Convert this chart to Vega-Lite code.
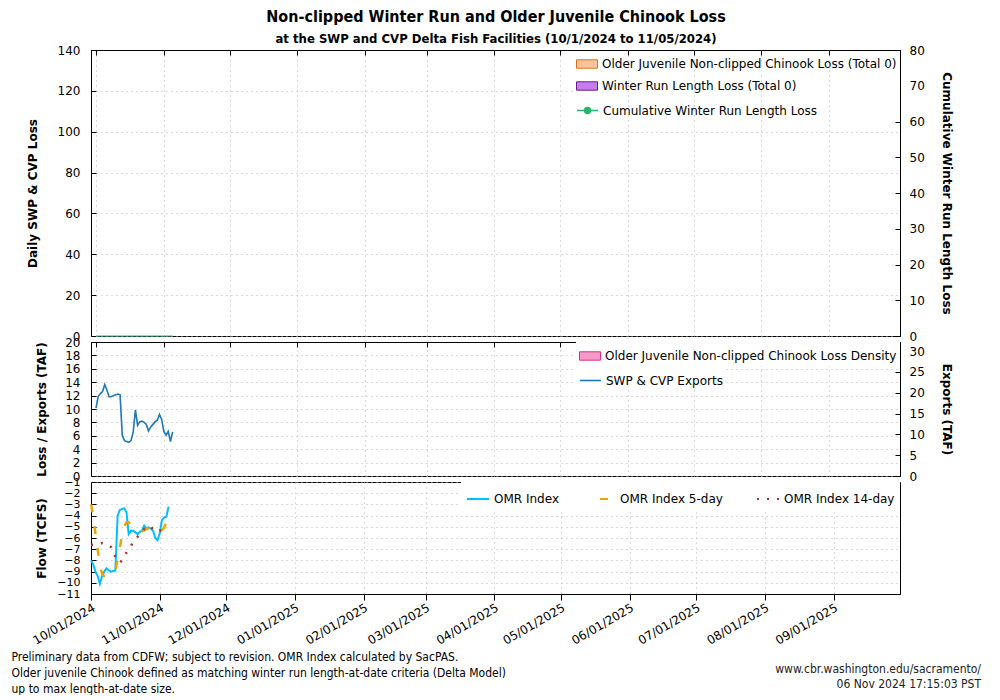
{
  "$schema": "https://vega.github.io/schema/vega-lite/v6.json",
  "padding": {"left": 10, "top": 8, "right": 5, "bottom": 0},
  "background": "white",
  "bounds": "flush",
  "spacing": 6,
  "title": {
    "text": "Non-clipped Winter Run and Older Juvenile Chinook Loss",
    "subtitle": "at the SWP and CVP Delta Fish Facilities (10/1/2024 to 11/05/2024)",
    "font": "DejaVu Sans Condensed",
    "fontSize": 16,
    "fontWeight": "bold",
    "color": "black",
    "subtitleFont": "DejaVu Sans Condensed",
    "subtitleFontSize": 13,
    "subtitleFontWeight": "bold",
    "subtitleColor": "black",
    "subtitlePadding": 8,
    "anchor": "middle",
    "offset": -2
  },
  "datasets": {
    "daily": [
      {"date": "2024-10-01", "exports": 16.3, "omr": -8.0, "omr5": -3.0, "omr14": -6.6, "olderLoss": 0, "wrLoss": 0, "cumWR": 0, "density": 0},
      {"date": "2024-10-02", "exports": 19.1, "omr": -8.35, "omr5": -4.0, "omr14": -6.6, "olderLoss": 0, "wrLoss": 0, "cumWR": 0, "density": 0},
      {"date": "2024-10-03", "exports": 19.8, "omr": -9.0, "omr5": -5.6, "omr14": -6.55, "olderLoss": 0, "wrLoss": 0, "cumWR": 0, "density": 0},
      {"date": "2024-10-04", "exports": 20.3, "omr": -9.4, "omr5": -7.0, "omr14": -6.5, "olderLoss": 0, "wrLoss": 0, "cumWR": 0, "density": 0},
      {"date": "2024-10-05", "exports": 22.0, "omr": -10.1, "omr5": -8.4, "omr14": -6.5, "olderLoss": 0, "wrLoss": 0, "cumWR": 0, "density": 0},
      {"date": "2024-10-06", "exports": 20.6, "omr": -9.4, "omr5": -9.2, "omr14": -6.45, "olderLoss": 0, "wrLoss": 0, "cumWR": 0, "density": 0},
      {"date": "2024-10-07", "exports": 19.0, "omr": -9.0, "omr5": -9.4, "omr14": -6.5, "olderLoss": 0, "wrLoss": 0, "cumWR": 0, "density": 0},
      {"date": "2024-10-08", "exports": 19.1, "omr": -8.7, "omr5": -9.3, "omr14": -6.6, "olderLoss": 0, "wrLoss": 0, "cumWR": 0, "density": 0},
      {"date": "2024-10-09", "exports": 19.3, "omr": -8.9, "omr5": -9.2, "omr14": -6.65, "olderLoss": 0, "wrLoss": 0, "cumWR": 0, "density": 0},
      {"date": "2024-10-10", "exports": 19.5, "omr": -9.0, "omr5": -9.0, "omr14": -6.8, "olderLoss": 0, "wrLoss": 0, "cumWR": 0, "density": 0},
      {"date": "2024-10-11", "exports": 19.7, "omr": -8.95, "omr5": -8.95, "omr14": -7.2, "olderLoss": 0, "wrLoss": 0, "cumWR": 0, "density": 0},
      {"date": "2024-10-12", "exports": 19.5, "omr": -8.9, "omr5": -8.9, "omr14": -7.7, "olderLoss": 0, "wrLoss": 0, "cumWR": 0, "density": 0},
      {"date": "2024-10-13", "exports": 9.8, "omr": -4.0, "omr5": -7.9, "omr14": -8.0, "olderLoss": 0, "wrLoss": 0, "cumWR": 0, "density": 0},
      {"date": "2024-10-14", "exports": 8.5, "omr": -3.5, "omr5": -6.9, "omr14": -8.2, "olderLoss": 0, "wrLoss": 0, "cumWR": 0, "density": 0},
      {"date": "2024-10-15", "exports": 8.3, "omr": -3.4, "omr5": -5.7, "omr14": -8.0, "olderLoss": 0, "wrLoss": 0, "cumWR": 0, "density": 0},
      {"date": "2024-10-16", "exports": 8.1, "omr": -3.35, "omr5": -5.0, "omr14": -7.6, "olderLoss": 0, "wrLoss": 0, "cumWR": 0, "density": 0},
      {"date": "2024-10-17", "exports": 8.5, "omr": -3.7, "omr5": -4.6, "omr14": -7.3, "olderLoss": 0, "wrLoss": 0, "cumWR": 0, "density": 0},
      {"date": "2024-10-18", "exports": 10.6, "omr": -5.65, "omr5": -4.6, "omr14": -7.0, "olderLoss": 0, "wrLoss": 0, "cumWR": 0, "density": 0},
      {"date": "2024-10-19", "exports": 15.9, "omr": -5.35, "omr5": -4.8, "omr14": -6.7, "olderLoss": 0, "wrLoss": 0, "cumWR": 0, "density": 0},
      {"date": "2024-10-20", "exports": 12.2, "omr": -5.35, "omr5": -5.0, "omr14": -6.4, "olderLoss": 0, "wrLoss": 0, "cumWR": 0, "density": 0},
      {"date": "2024-10-21", "exports": 13.0, "omr": -5.5, "omr5": -5.2, "omr14": -6.1, "olderLoss": 0, "wrLoss": 0, "cumWR": 0, "density": 0},
      {"date": "2024-10-22", "exports": 13.2, "omr": -5.65, "omr5": -5.3, "omr14": -5.9, "olderLoss": 0, "wrLoss": 0, "cumWR": 0, "density": 0},
      {"date": "2024-10-23", "exports": 12.9, "omr": -5.45, "omr5": -5.4, "omr14": -5.7, "olderLoss": 0, "wrLoss": 0, "cumWR": 0, "density": 0},
      {"date": "2024-10-24", "exports": 12.4, "omr": -5.35, "omr5": -5.4, "omr14": -5.4, "olderLoss": 0, "wrLoss": 0, "cumWR": 0, "density": 0},
      {"date": "2024-10-25", "exports": 10.8, "omr": -4.9, "omr5": -5.3, "omr14": -5.2, "olderLoss": 0, "wrLoss": 0, "cumWR": 0, "density": 0},
      {"date": "2024-10-26", "exports": 11.8, "omr": -5.15, "omr5": -5.2, "omr14": -5.05, "olderLoss": 0, "wrLoss": 0, "cumWR": 0, "density": 0},
      {"date": "2024-10-27", "exports": 12.4, "omr": -5.05, "omr5": -5.15, "omr14": -4.9, "olderLoss": 0, "wrLoss": 0, "cumWR": 0, "density": 0},
      {"date": "2024-10-28", "exports": 13.0, "omr": -5.15, "omr5": -5.2, "omr14": -5.0, "olderLoss": 0, "wrLoss": 0, "cumWR": 0, "density": 0},
      {"date": "2024-10-29", "exports": 13.4, "omr": -5.35, "omr5": -5.25, "omr14": -5.2, "olderLoss": 0, "wrLoss": 0, "cumWR": 0, "density": 0},
      {"date": "2024-10-30", "exports": 14.8, "omr": -6.0, "omr5": -5.3, "omr14": -5.4, "olderLoss": 0, "wrLoss": 0, "cumWR": 0, "density": 0},
      {"date": "2024-10-31", "exports": 13.6, "omr": -6.2, "omr5": -5.4, "omr14": -5.45, "olderLoss": 0, "wrLoss": 0, "cumWR": 0, "density": 0},
      {"date": "2024-11-01", "exports": 10.7, "omr": -5.6, "omr5": -5.45, "omr14": -5.35, "olderLoss": 0, "wrLoss": 0, "cumWR": 0, "density": 0},
      {"date": "2024-11-02", "exports": 9.8, "omr": -4.4, "omr5": -5.3, "omr14": -5.3, "olderLoss": 0, "wrLoss": 0, "cumWR": 0, "density": 0},
      {"date": "2024-11-03", "exports": 10.7, "omr": -4.15, "omr5": -5.1, "omr14": -5.2, "olderLoss": 0, "wrLoss": 0, "cumWR": 0, "density": 0},
      {"date": "2024-11-04", "exports": 8.3, "omr": -4.1, "omr5": -4.6, "omr14": -5.1, "olderLoss": 0, "wrLoss": 0, "cumWR": 0, "density": 0},
      {"date": "2024-11-05", "exports": 10.6, "omr": -3.2, "omr5": -4.3, "omr14": -5.0, "olderLoss": 0, "wrLoss": 0, "cumWR": 0, "density": 0}
    ]
  },
  "vconcat": [
    {
      "width": 809,
      "height": 286,
      "data": {"name": "daily"},
      "layer": [
        {
          "layer": [
            {
              "mark": {"type": "bar"},
              "encoding": {
                "x": {"field": "date", "type": "temporal",
                  "scale": {"type": "utc", "domain": [{"year": 2024, "month": 10, "date": 1, "utc": true}, {"year": 2025, "month": 10, "date": 1, "utc": true}]},
                  "axis": {"labels": false, "title": null, "grid": true, "tickSize": -5, "zindex": 1,
                    "values": [{"year": 2024, "month": 10, "date": 1, "utc": true}, {"year": 2024, "month": 11, "date": 1, "utc": true}, {"year": 2024, "month": 12, "date": 1, "utc": true}, {"year": 2025, "month": 1, "date": 1, "utc": true}, {"year": 2025, "month": 2, "date": 1, "utc": true}, {"year": 2025, "month": 3, "date": 1, "utc": true}, {"year": 2025, "month": 4, "date": 1, "utc": true}, {"year": 2025, "month": 5, "date": 1, "utc": true}, {"year": 2025, "month": 6, "date": 1, "utc": true}, {"year": 2025, "month": 7, "date": 1, "utc": true}, {"year": 2025, "month": 8, "date": 1, "utc": true}, {"year": 2025, "month": 9, "date": 1, "utc": true}]}},
                "y": {"field": "olderLoss", "type": "quantitative",
                  "scale": {"domain": [0, 140], "nice": false},
                  "axis": {"title": "Daily SWP & CVP Loss", "values": [0, 20, 40, 60, 80, 100, 120, 140], "grid": true, "tickSize": -5, "labelPadding": 16, "titlePadding": 18}},
                "fill": {"datum": "Older Juvenile Non-clipped Chinook Loss (Total 0)",
                  "scale": {"domain": ["Older Juvenile Non-clipped Chinook Loss (Total 0)", "Winter Run Length Loss (Total 0)"], "range": ["#f8c49c", "#c77cee"]},
                  "legend": {"orient": "top-right", "title": null, "offset": 0, "fillColor": "white", "padding": 3, "rowPadding": 4,
                    "symbolType": "M-1,-0.4H1V0.4H-1Z", "symbolSize": 440, "symbolStrokeWidth": 1,
                    "encode": {"symbols": {"update": {"stroke": [{"test": "datum.value === 'Older Juvenile Non-clipped Chinook Loss (Total 0)'", "value": "#e0701c"}, {"value": "#6a1b8a"}]}}}}}
              }
            },
            {
              "mark": {"type": "bar"},
              "encoding": {
                "x": {"field": "date", "type": "temporal"},
                "y": {"field": "wrLoss", "type": "quantitative"},
                "fill": {"datum": "Winter Run Length Loss (Total 0)"}
              }
            }
          ]
        },
        {
          "mark": {"type": "line", "strokeWidth": 1},
          "encoding": {
            "x": {"field": "date", "type": "temporal",
              "axis": {"orient": "top", "labels": false, "title": null, "grid": false, "tickSize": -5,
                "values": [{"year": 2024, "month": 10, "date": 1, "utc": true}, {"year": 2024, "month": 11, "date": 1, "utc": true}, {"year": 2024, "month": 12, "date": 1, "utc": true}, {"year": 2025, "month": 1, "date": 1, "utc": true}, {"year": 2025, "month": 2, "date": 1, "utc": true}, {"year": 2025, "month": 3, "date": 1, "utc": true}, {"year": 2025, "month": 4, "date": 1, "utc": true}, {"year": 2025, "month": 5, "date": 1, "utc": true}, {"year": 2025, "month": 6, "date": 1, "utc": true}, {"year": 2025, "month": 7, "date": 1, "utc": true}, {"year": 2025, "month": 8, "date": 1, "utc": true}, {"year": 2025, "month": 9, "date": 1, "utc": true}]}},
            "y": {"field": "cumWR", "type": "quantitative",
              "scale": {"domain": [0, 80], "nice": false},
              "axis": {"orient": "right", "title": "Cumulative Winter Run Length Loss", "values": [0, 10, 20, 30, 40, 50, 60, 70, 80], "grid": false, "tickSize": -5, "labelPadding": 14, "titlePadding": 15}},
            "stroke": {"datum": "Cumulative Winter Run Length Loss",
              "scale": {"domain": ["Cumulative Winter Run Length Loss"], "range": ["#2ab36c"]},
              "legend": {"orient": "top-right", "title": null, "offset": 0, "fillColor": "white", "padding": 3,
                "symbolType": "M-1,0H1M-0.28,0A0.28,0.28 0 1 1 0.28,0A0.28,0.28 0 1 1 -0.28,0", "symbolSize": 440, "symbolStrokeWidth": 1.5, "symbolFillColor": "#2ab36c"}}
          }
        }
      ],
      "resolve": {"scale": {"y": "independent"}}
    },
    {
      "width": 809,
      "height": 134,
      "data": {"name": "daily"},
      "layer": [
        {
          "mark": {"type": "bar"},
          "encoding": {
            "x": {"field": "date", "type": "temporal",
              "scale": {"type": "utc", "domain": [{"year": 2024, "month": 10, "date": 1, "utc": true}, {"year": 2025, "month": 10, "date": 1, "utc": true}]},
              "axis": {"labels": false, "title": null, "grid": true, "tickSize": -5,
                "values": [{"year": 2024, "month": 10, "date": 1, "utc": true}, {"year": 2024, "month": 11, "date": 1, "utc": true}, {"year": 2024, "month": 12, "date": 1, "utc": true}, {"year": 2025, "month": 1, "date": 1, "utc": true}, {"year": 2025, "month": 2, "date": 1, "utc": true}, {"year": 2025, "month": 3, "date": 1, "utc": true}, {"year": 2025, "month": 4, "date": 1, "utc": true}, {"year": 2025, "month": 5, "date": 1, "utc": true}, {"year": 2025, "month": 6, "date": 1, "utc": true}, {"year": 2025, "month": 7, "date": 1, "utc": true}, {"year": 2025, "month": 8, "date": 1, "utc": true}, {"year": 2025, "month": 9, "date": 1, "utc": true}]}},
            "y": {"field": "density", "type": "quantitative",
              "scale": {"domain": [0, 20], "nice": false},
              "axis": {"title": "Loss / Exports (TAF)", "values": [0, 2, 4, 6, 8, 10, 12, 14, 16, 18, 20], "grid": true, "tickSize": -5, "labelPadding": 16, "titlePadding": 16, "labelOverlap": false}},
            "fill": {"datum": "Older Juvenile Non-clipped Chinook Loss Density",
              "scale": {"domain": ["Older Juvenile Non-clipped Chinook Loss Density"], "range": ["#f59ac9"]},
              "legend": {"orient": "top-right", "title": null, "offset": 0, "fillColor": "white", "padding": 3,
                "symbolType": "M-1,-0.4H1V0.4H-1Z", "symbolSize": 440, "symbolStrokeWidth": 1, "symbolStrokeColor": "#d9307f"}}
          }
        },
        {
          "mark": {"type": "line", "strokeWidth": 1.6},
          "encoding": {
            "x": {"field": "date", "type": "temporal",
              "axis": {"orient": "top", "labels": false, "title": null, "grid": false, "tickSize": -5,
                "values": [{"year": 2024, "month": 10, "date": 1, "utc": true}, {"year": 2024, "month": 11, "date": 1, "utc": true}, {"year": 2024, "month": 12, "date": 1, "utc": true}, {"year": 2025, "month": 1, "date": 1, "utc": true}, {"year": 2025, "month": 2, "date": 1, "utc": true}, {"year": 2025, "month": 3, "date": 1, "utc": true}, {"year": 2025, "month": 4, "date": 1, "utc": true}, {"year": 2025, "month": 5, "date": 1, "utc": true}, {"year": 2025, "month": 6, "date": 1, "utc": true}, {"year": 2025, "month": 7, "date": 1, "utc": true}, {"year": 2025, "month": 8, "date": 1, "utc": true}, {"year": 2025, "month": 9, "date": 1, "utc": true}]}},
            "y": {"field": "exports", "type": "quantitative",
              "scale": {"domain": [0, 32.2], "nice": false},
              "axis": {"orient": "right", "title": "Exports (TAF)", "values": [0, 5, 10, 15, 20, 25, 30], "grid": false, "tickSize": -5, "labelPadding": 14, "titlePadding": 15}},
            "stroke": {"datum": "SWP & CVP Exports",
              "scale": {"domain": ["SWP & CVP Exports"], "range": ["#1f78b8"]},
              "legend": {"orient": "top-right", "title": null, "offset": 0, "fillColor": "white", "padding": 3,
                "symbolType": "stroke", "symbolSize": 440, "symbolStrokeWidth": 1.6}}
          }
        }
      ],
      "resolve": {"scale": {"y": "independent"}}
    },
    {
      "width": 809,
      "height": 112,
      "data": {"name": "daily"},
      "title": {
        "text": ["www.cbr.washington.edu/sacramento/", "06 Nov 2024 17:15:03 PST"],
        "orient": "bottom", "anchor": "end", "align": "right",
        "font": "DejaVu Sans Condensed", "fontSize": 12, "fontWeight": "normal", "color": "#222222",
        "lineHeight": 15, "offset": -30, "dx": 81
      },
      "layer": [
        {
          "mark": {"type": "line", "strokeWidth": 2},
          "encoding": {
            "x": {"field": "date", "type": "temporal",
              "scale": {"type": "utc", "domain": [{"year": 2024, "month": 10, "date": 1, "utc": true}, {"year": 2025, "month": 10, "date": 1, "utc": true}]},
              "axis": {"format": "%m/%d/%Y", "labelAngle": -30, "labelAlign": "right", "labelBaseline": "top", "grid": true, "tickSize": 6, "labelPadding": 2, "labelOverlap": false,
                "values": [{"year": 2024, "month": 10, "date": 1, "utc": true}, {"year": 2024, "month": 11, "date": 1, "utc": true}, {"year": 2024, "month": 12, "date": 1, "utc": true}, {"year": 2025, "month": 1, "date": 1, "utc": true}, {"year": 2025, "month": 2, "date": 1, "utc": true}, {"year": 2025, "month": 3, "date": 1, "utc": true}, {"year": 2025, "month": 4, "date": 1, "utc": true}, {"year": 2025, "month": 5, "date": 1, "utc": true}, {"year": 2025, "month": 6, "date": 1, "utc": true}, {"year": 2025, "month": 7, "date": 1, "utc": true}, {"year": 2025, "month": 8, "date": 1, "utc": true}, {"year": 2025, "month": 9, "date": 1, "utc": true}],
                "title": ["Preliminary data from CDFW; subject to revision. OMR Index calculated by SacPAS.", "Older juvenile Chinook defined as matching winter run length-at-date criteria (Delta Model)", "up to max length-at-date size."],
                "titleFont": "DejaVu Sans Condensed", "titleFontWeight": "normal", "titleFontSize": 12, "titleColor": "black",
                "titleAlign": "left", "titleAnchor": "start", "titleBaseline": "top", "titleX": -80, "titleY": 57, "titleLineHeight": 16}},
            "y": {"field": "omr", "type": "quantitative",
              "scale": {"domain": [-11, -1], "nice": false, "zero": false},
              "axis": {"title": "Flow (TCFS)", "values": [-11, -10, -9, -8, -7, -6, -5, -4, -3, -2, -1], "grid": true, "tickSize": -5, "labelPadding": 16, "titlePadding": 8, "labelOverlap": false, "labelFontSize": 11}},
            "stroke": {"datum": "OMR Index",
              "scale": {"domain": ["OMR Index", "OMR Index 5-day", "OMR Index 14-day"], "range": ["#00bfff", "#e6a800", "#a83232"]},
              "legend": {"orient": "top-right", "direction": "horizontal", "columns": 3, "columnPadding": 30, "title": null, "offset": 0, "fillColor": "white", "padding": 5,
                "symbolType": "stroke", "symbolSize": 484, "symbolStrokeWidth": 2,
                "encode": {"symbols": {"update": {"strokeDash": [{"test": "datum.value === 'OMR Index 5-day'", "value": [8, 14]}, {"test": "datum.value === 'OMR Index 14-day'", "value": [2, 8]}, {"value": [1, 0]}], "strokeDashOffset": [{"test": "datum.value === 'OMR Index 5-day'", "value": -7}, {"value": 0}]}}}}}
          }
        },
        {
          "mark": {"type": "line", "strokeWidth": 2.5, "strokeDash": [8, 14]},
          "encoding": {
            "x": {"field": "date", "type": "temporal"},
            "y": {"field": "omr5", "type": "quantitative",
              "axis": {"title": "Flow (TCFS)", "values": [-11, -10, -9, -8, -7, -6, -5, -4, -3, -2, -1], "grid": true, "tickSize": -5, "labelPadding": 16, "titlePadding": 8, "labelOverlap": false, "labelFontSize": 11}},
            "stroke": {"datum": "OMR Index 5-day"}
          }
        },
        {
          "mark": {"type": "line", "strokeWidth": 2.5, "strokeDash": [2, 8]},
          "encoding": {
            "x": {"field": "date", "type": "temporal"},
            "y": {"field": "omr14", "type": "quantitative",
              "axis": {"title": "Flow (TCFS)", "values": [-11, -10, -9, -8, -7, -6, -5, -4, -3, -2, -1], "grid": true, "tickSize": -5, "labelPadding": 16, "titlePadding": 8, "labelOverlap": false, "labelFontSize": 11}},
            "stroke": {"datum": "OMR Index 14-day"}
          }
        }
      ]
    }
  ],
  "resolve": {"scale": {"fill": "independent", "stroke": "independent"}, "legend": {"fill": "independent", "stroke": "independent"}},
  "config": {
    "font": "DejaVu Sans",
    "view": {"stroke": "black", "strokeWidth": 1},
    "axis": {"labelFont": "DejaVu Sans", "labelFontSize": 12, "labelColor": "black", "titleFont": "DejaVu Sans", "titleFontSize": 12, "titleFontWeight": "bold", "titleColor": "black", "domainColor": "black", "tickColor": "black", "gridColor": "#b8b8b8", "gridDash": [1, 4], "gridWidth": 1},
    "legend": {"labelFont": "DejaVu Sans", "labelFontSize": 12, "labelColor": "black", "labelLimit": 600,
      "layout": {"direction": "vertical", "margin": 0, "top-right": {"direction": "vertical", "margin": 0}}}
  }
}
